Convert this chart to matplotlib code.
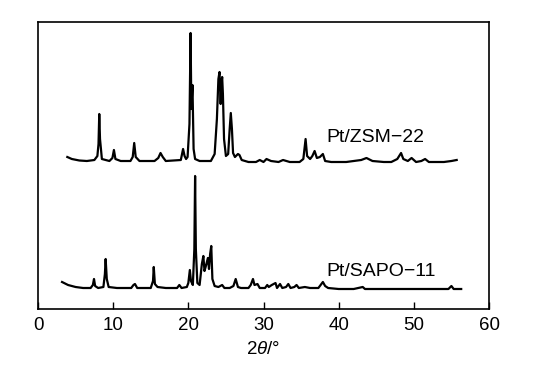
import matplotlib
matplotlib.use("Agg")
import matplotlib.pyplot as plt

plt.rcParams['font.family'] = ['Liberation Sans', 'DejaVu Sans']
plt.rcParams['mathtext.fontset'] = 'custom'
plt.rcParams['mathtext.it'] = 'Liberation Sans:italic'
plt.rcParams['mathtext.rm'] = 'Liberation Sans'

# Pt/ZSM-22 trace (2theta, intensity a.u.)
zsm_x = [3.9, 4.5, 5.5, 6.5, 7.5, 7.9, 8.05, 8.15, 8.25, 8.5, 9.5, 9.9, 10.1, 10.3, 11.0,
         12.3, 12.6, 12.8, 13.0, 13.5, 15.5, 16.0, 16.3, 16.6, 17.0, 19.0, 19.3, 19.5, 19.7,
         19.9, 20.15, 20.3, 20.4, 20.55, 20.7, 20.9, 21.5, 23.0, 23.5, 23.8, 24.0, 24.15, 24.3,
         24.4, 24.5, 24.6, 24.75, 25.0, 25.3, 25.5, 25.65, 25.8, 25.95, 26.2, 26.6, 26.8, 27.1,
         28.0, 29.0, 29.5, 30.0, 30.4, 31.0, 32.0, 32.6, 33.5, 34.8, 35.3, 35.6, 35.8, 36.2,
         36.5, 36.8, 37.1, 37.5, 37.9, 38.2, 39.0, 40.0, 41.0, 42.0, 43.0, 43.7, 44.5, 46.0,
         47.0, 47.8, 48.3, 48.6, 49.2, 49.7, 50.3, 51.0, 51.5, 52.0, 53.0, 54.0, 55.0, 55.7]
zsm_y = [152, 150, 148.5, 148, 149, 153, 165, 195, 170, 150, 148, 151, 159, 150, 148,
         148, 152, 166, 152, 148, 148, 151, 156, 152, 148, 149, 160, 153, 150,
         152, 185, 276, 200, 224, 160, 150, 148, 148, 155, 190, 230, 237, 205,
         225, 232, 215, 170, 153, 155, 180, 196, 180, 156, 152, 155, 154, 149,
         147, 147, 149, 147, 150, 148, 147, 149, 147, 147, 150, 170, 153, 150,
         153, 158, 151, 152, 155, 148, 147, 147, 147, 148, 149, 151, 148, 147,
         147, 150, 156, 150, 148, 151, 147, 148, 150, 147, 147, 147, 148, 149]

# Pt/SAPO-11 trace
sapo_x = [3.2, 4.0, 5.0, 6.0, 7.0, 7.3, 7.45, 7.6, 8.0, 8.7, 8.9, 9.0, 9.15, 9.4, 10.5,
          12.4, 12.7, 12.9, 13.2, 15.0, 15.3, 15.4, 15.55, 15.9, 17.0, 18.5, 18.8, 19.1,
          19.8, 20.0, 20.2, 20.35, 20.6, 20.8, 20.9, 21.0, 21.2, 21.5, 21.8, 22.0, 22.15,
          22.3, 22.6, 22.75, 22.9, 23.05, 23.2, 23.5, 24.0, 24.5, 24.8, 25.5, 26.0, 26.3,
          26.6, 27.0, 28.0, 28.3, 28.6, 28.8, 29.2, 29.5, 30.2, 30.5, 30.7, 31.1, 31.6,
          31.8, 32.2, 32.5, 33.0, 33.3, 33.6, 34.1, 34.4, 34.7, 35.5, 36.2, 37.3, 37.7,
          37.9, 38.2, 38.6, 40.0, 41.0, 42.0, 43.2, 43.5, 45.0, 47.0, 49.0, 51.0, 53.0,
          54.6, 55.0, 55.3, 56.3]
sapo_y = [27, 24, 22, 21, 21, 24, 30, 23, 21, 22, 35, 50, 30, 22, 21,
          21, 24, 25, 21, 21, 28, 42, 25, 22, 21, 21, 24, 21,
          22, 26, 39, 28, 24, 60, 133, 60, 26, 24, 45, 53, 38,
          42, 51, 40, 55, 63, 30, 23, 22, 24, 21, 21, 23, 30,
          22, 21, 21, 24, 30, 24, 25, 21, 21, 24, 22, 24, 26,
          21, 25, 21, 22, 25, 21, 22, 24, 21, 22, 21, 21, 25,
          27, 23, 21, 20, 20, 20, 22, 20, 20, 20, 20, 20, 20,
          20, 23, 20, 20]

labels = ["Pt/ZSM\u221222", "Pt/SAPO\u221211"]
xticks = [0, 10, 20, 30, 40, 50, 60]

fig = plt.figure(figsize=(5.41, 3.75), dpi=100)
ax = fig.add_axes([38/541, 66/375, 451/541, 287/375])
ax.plot(zsm_x, zsm_y, color='black', lw=1.6, solid_joinstyle='round')
ax.plot(sapo_x, sapo_y, color='black', lw=1.6, solid_joinstyle='round')
ax.text(38.4, 171, labels[0], fontsize=14, ha='left', va='center')
ax.text(38.4, 37, labels[1], fontsize=14, ha='left', va='center')

ax.set_xlim(0, 60)
ax.set_ylim(0, 287)
ax.set_xticks(xticks)
ax.set_xticklabels([str(t) for t in xticks])
ax.set_yticks([])
ax.tick_params(axis='x', direction='in', length=5, width=1, labelsize=13.5, pad=6)
for s in ax.spines.values():
    s.set_linewidth(1.2)
ax.set_xlabel(r'$2\theta$/°', fontsize=13.5, labelpad=5)

fig.savefig("out.png", dpi=100)
